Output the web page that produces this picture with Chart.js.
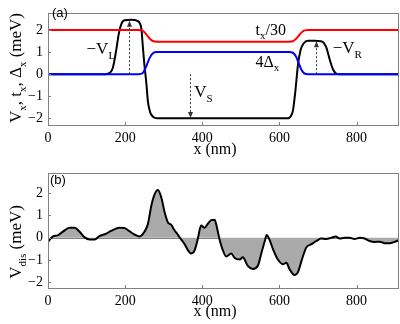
<!DOCTYPE html>
<html>
<head>
<meta charset="utf-8">
<script src="https://cdn.jsdelivr.net/npm/chart.js@4"></script>
<style>
  html, body { margin: 0; padding: 0; background: #fff; }
  #top { position: absolute; left: 0; top: 0; width: 400px; height: 160px; }
  #bot { position: absolute; left: 0; top: 160px; width: 400px; height: 164px; }
</style>
</head>
<body>
<div id="top"><canvas id="c1"></canvas></div>
<div id="bot"><canvas id="c2"></canvas></div>
<script>
// (a) t_x/30 och 4Δ_x
const bandX = [0, 235, 245, 252, 258, 264, 272, 282, 625, 635, 643, 650, 657, 665, 675, 910];
const redY  = [2, 2, 1.97, 1.86, 1.73, 1.6, 1.5, 1.47, 1.47, 1.49, 1.6, 1.74, 1.88, 1.98, 2, 2];
const blueY = [0, 0, 0.04, 0.25, 0.5, 0.75, 0.95, 1, 1, 0.97, 0.8, 0.5, 0.2, 0.03, 0, 0];

// (a) V_x
const potX = [0, 150, 160, 168, 177, 183, 190, 198, 216, 233, 238, 242, 246, 250, 255, 259, 263, 266, 274, 285,
              620, 626, 631, 635, 641, 648, 655, 663, 674, 691, 708, 715, 721, 726, 730, 735, 739, 747, 756, 910];
const potY = [0, 0, 0.06, 0.28, 1.1, 1.78, 2.26, 2.44, 2.46, 2.4, 2.3, 2.06, 1.23, 0.41, -0.41, -1.23, -1.6, -1.78, -1.95, -2,
              -2, -1.97, -1.85, -1.65, -0.82, 0.41, 1.1, 1.4, 1.51, 1.51, 1.49, 1.42, 1.23, 0.95, 0.69, 0.4, 0.21, 0.03, 0, 0];

// (b) V_dis
const disX = [0, 12, 25, 38, 56, 69, 82, 95, 108, 121, 134, 147, 159, 172, 185, 198, 211, 224, 237, 250,
              259, 268, 276, 285, 294, 302, 311, 319, 328, 337, 345, 354, 363, 371, 380, 388, 397, 406, 414, 423,
              432, 438, 445, 452, 462, 475, 484, 497, 505, 518, 531, 544, 553, 562, 567, 574, 583, 596, 609, 618,
              626, 639, 648, 657, 665, 670, 683, 696, 708, 721, 734, 746, 756, 769, 782, 795, 808, 821, 834, 847,
              860, 873, 886, 898, 910];
const disY = [-0.2, 0.05, 0.1, 0.26, 0.44, 0.44, 0.26, 0.01, -0.08, -0.08, 0.08, 0.15, 0.26, 0.37, 0.44, 0.43, 0.29, 0.14, 0.05, 0.26,
              0.61, 1.44, 1.92, 2.13, 1.78, 1.16, 0.68, 0.58, 0.33, 0.12, -0.08, -0.29, -0.57, -0.71, -0.57, -0.08, 0.54, 0.44, 0.61, 0.78,
              0.8, 0.45, -0.1, -0.5, -0.84, -0.71, -0.91, -0.98, -0.88, -1.26, -1.4, -1.26, -0.71, -0.15, 0.12, -0.08, -0.5, -0.98, -1.19, -1.12,
              -1.4, -1.67, -1.54, -1.05, -0.63, -0.43, -0.29, -0.15, -0.04, -0.06, -0.01, 0.05, -0.04, -0.01, -0.01, -0.06, -0.01, -0.04, -0.15, -0.19,
              -0.18, -0.25, -0.25, -0.19, -0.11];

const xTicks = [0, 200, 400, 600, 800];
const yTicksTop = [-2, -1, 0, 1, 2];
const yTicksBot = [-2, -1, 0, 1, 2];

const serif = '"Liberation Serif", "DejaVu Serif", serif';
Chart.defaults.font.family = serif;

const pts = (xs, ys) => xs.map((x, i) => ({ x, y: ys[i] }));

// text med nedsänkta index, parts = [[text, sub], ...]
function richText(ctx, parts, x, y, size, align) {
  const big = size + 'px ' + serif;
  const small = Math.round(size * 0.66) + 'px ' + serif;
  let w = 0;
  parts.forEach(p => { ctx.font = p[1] ? small : big; w += ctx.measureText(p[0]).width; });
  let cx = align === 'center' ? x - w / 2 : align === 'right' ? x - w : x;
  ctx.textAlign = 'left';
  ctx.textBaseline = 'alphabetic';
  ctx.fillStyle = '#000';
  parts.forEach(p => {
    ctx.font = p[1] ? small : big;
    ctx.fillText(p[0], cx, y + (p[1] ? size * 0.28 : 0));
    cx += ctx.measureText(p[0]).width;
  });
}

function arrow(ctx, x, y0, y1) {
  const dir = y1 > y0 ? 1 : -1;
  ctx.save();
  ctx.strokeStyle = '#333';
  ctx.fillStyle = '#333';
  ctx.lineWidth = 1;
  ctx.setLineDash([2, 2]);
  ctx.beginPath();
  ctx.moveTo(x, y0);
  ctx.lineTo(x, y1 - dir * 4);
  ctx.stroke();
  ctx.setLineDash([]);
  ctx.beginPath();
  ctx.moveTo(x, y1);
  ctx.lineTo(x - 2.5, y1 - dir * 6);
  ctx.lineTo(x + 2.5, y1 - dir * 6);
  ctx.closePath();
  ctx.fill();
  ctx.restore();
}

// ram, inåtriktade streck, axeltitlar
const frame = {
  id: 'frame',
  beforeDatasetsDraw(chart, args, opts) {
    const { ctx, chartArea: a, scales } = chart;
    if (opts.zeroLine) {
      const y0 = Math.round(scales.y.getPixelForValue(0)) + 0.5;
      ctx.save();
      ctx.strokeStyle = '#808080';
      ctx.lineWidth = 1;
      ctx.beginPath();
      ctx.moveTo(a.left, y0);
      ctx.lineTo(a.right, y0);
      ctx.stroke();
      ctx.restore();
    }
  },
  afterDraw(chart, args, opts) {
    const { ctx, chartArea: a, scales } = chart;
    ctx.save();
    ctx.strokeStyle = '#808080';
    ctx.lineWidth = 1;
    ctx.strokeRect(Math.round(a.left) + 0.5, Math.round(a.top) + 0.5,
                   Math.round(a.right - a.left) - 1, Math.round(a.bottom - a.top));
    ctx.beginPath();
    xTicks.forEach(v => {
      const px = Math.round(scales.x.getPixelForValue(v)) + 0.5;
      ctx.moveTo(px, a.bottom); ctx.lineTo(px, a.bottom - 3);
    });
    scales.y.ticks.forEach(t => {
      const py = Math.round(scales.y.getPixelForValue(t.value)) + 0.5;
      ctx.moveTo(a.left, py); ctx.lineTo(a.left + 3, py);
    });
    ctx.stroke();
    ctx.restore();

    // x-titel
    richText(ctx, [['x (nm)', false]], 215, opts.xTitleY, 16, 'center');
    // y-titel
    ctx.save();
    ctx.translate(15, opts.yTitleMid);
    ctx.rotate(-Math.PI / 2);
    richText(ctx, opts.yTitle, 0, 6, 17, 'center');
    ctx.restore();
    // panelbokstav
    ctx.save();
    ctx.font = '13px "Liberation Sans", Arial, sans-serif';
    ctx.fillStyle = '#000';
    ctx.textBaseline = 'alphabetic';
    ctx.fillText(opts.tag, opts.tagX, opts.tagY);
    ctx.restore();
  }
};

// etiketter och pilar i panel (a)
const notes = {
  id: 'notes',
  afterDatasetsDraw(chart) {
    const { ctx, scales: { x, y } } = chart;
    const X = v => x.getPixelForValue(v), Y = v => y.getPixelForValue(v);
    arrow(ctx, Math.round(X(210)) + 0.5, Y(0), Y(2.42));
    arrow(ctx, Math.round(X(695)) + 0.5, Y(0), Y(1.49));
    arrow(ctx, Math.round(X(367)) + 0.5, Y(0), Y(-1.98));
    richText(ctx, [['\u2212V', false], ['L', true]], X(174), Y(0.9), 17, 'right');
    richText(ctx, [['\u2212V', false], ['R', true]], X(738), Y(0.96), 17, 'left');
    richText(ctx, [['V', false], ['S', true]], X(379), Y(-1.03), 17, 'left');
    richText(ctx, [['t', false], ['x', true], ['/30', false]], X(538), Y(1.78), 16, 'left');
    richText(ctx, [['4\u0394', false], ['x', true]], X(538), Y(0.34), 16, 'left');
  }
};

function options(yMin, yMax, yTicks, padTop, xAxisH, frameOpts) {
  return {
    responsive: true,
    maintainAspectRatio: false,
    animation: false,
    devicePixelRatio: 1,
    layout: { padding: { top: padTop, right: 1, left: 0, bottom: 0 } },
    elements: { point: { radius: 0 } },
    plugins: { legend: { display: false }, tooltip: { enabled: false }, frame: frameOpts },
    scales: {
      x: {
        type: 'linear', min: 0, max: 910,
        afterBuildTicks: s => { s.ticks = xTicks.map(v => ({ value: v })); },
        afterFit: s => { s.height = xAxisH; },
        grid: { display: false, drawTicks: false }, border: { display: false },
        ticks: { font: { family: serif, size: 14 }, color: '#000', padding: 5, maxRotation: 0 }
      },
      y: {
        type: 'linear', min: yMin, max: yMax,
        afterBuildTicks: s => { s.ticks = yTicks.map(v => ({ value: v })); },
        afterFit: s => { s.width = 48; },
        grid: { display: false, drawTicks: false }, border: { display: false },
        ticks: { font: { family: serif, size: 14 }, color: '#000', padding: 5,
                 callback: v => String(v).replace('-', '\u2212') }
      }
    }
  };
}

new Chart(document.getElementById('c1'), {
  type: 'line',
  data: {
    datasets: [
      { data: pts(bandX, redY), borderColor: '#ff0000', borderWidth: 2, cubicInterpolationMode: 'monotone', fill: false },
      { data: pts(bandX, blueY), borderColor: '#0000ff', borderWidth: 2, cubicInterpolationMode: 'monotone', fill: false },
      { data: pts(potX, potY), borderColor: '#000', borderWidth: 2, cubicInterpolationMode: 'monotone', fill: false }
    ]
  },
  options: options(-2.3, 2.75, yTicksTop, 3, 35, {
    xTitleY: 154, yTitleMid: 68, tag: '(a)', tagX: 52, tagY: 17,
    yTitle: [['V', false], ['x', true], [', t', false], ['x', true], [', \u0394', false], ['x', true], [' (meV)', false]]
  }),
  plugins: [frame, notes]
});

new Chart(document.getElementById('c2'), {
  type: 'line',
  data: {
    datasets: [
      { data: pts(disX, disY), borderColor: '#000', borderWidth: 2, cubicInterpolationMode: 'monotone',
        fill: 'origin', backgroundColor: '#aaaaaa' }
    ]
  },
  options: options(-2.25, 2.87, yTicksBot, 5, 36, {
    zeroLine: true, xTitleY: 156, yTitleMid: 82, tag: '(b)', tagX: 50, tagY: 24,
    yTitle: [['V', false], ['dis', true], [' (meV)', false]]
  }),
  plugins: [frame]
});
</script>
</body>
</html>
